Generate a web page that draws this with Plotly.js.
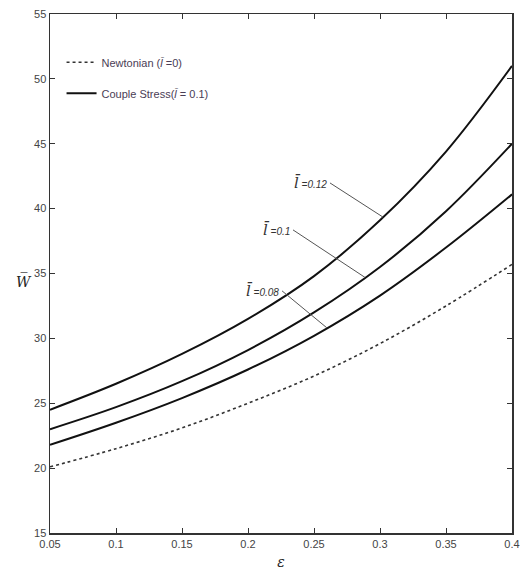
<!DOCTYPE html>
<html>
<head>
<meta charset="utf-8">
<script src="https://cdn.plot.ly/plotly-3.0.1.min.js"></script>
<style>html,body{margin:0;padding:0;background:#fff;}#chart{width:521px;height:573px;}</style>
</head>
<body>
<div id="chart"></div>
<script>
// ---- data ----
const epsilon      = [0.05, 0.10, 0.15, 0.20, 0.25, 0.30, 0.35, 0.40];
const W_newtonian  = [20.1, 21.5, 23.1, 25.0, 27.1, 29.6, 32.5, 35.7];
const W_l008       = [21.8, 23.5, 25.4, 27.6, 30.2, 33.3, 37.0, 41.1];
const W_l010       = [23.0, 24.7, 26.7, 29.1, 32.0, 35.5, 39.8, 45.0];
const W_l012       = [24.5, 26.5, 28.8, 31.5, 34.8, 39.1, 44.4, 51.0];
const xTicks = [0.05, 0.1, 0.15, 0.2, 0.25, 0.3, 0.35, 0.4];
const yTicks = [15, 20, 25, 30, 35, 40, 45, 50, 55];
const curveLabels = ["=0.08", "=0.1", "=0.12"];
const legendNames = ["Newtonian (<i>l\u0304</i> =0)", "Couple Stress(<i>l\u0304</i> = 0.1)"];

function interp(xs, ys, x) {
  for (let i = 0; i < xs.length - 1; i++) {
    if (x >= xs[i] && x <= xs[i + 1]) {
      const t = (x - xs[i]) / (xs[i + 1] - xs[i]);
      return ys[i] + t * (ys[i + 1] - ys[i]);
    }
  }
  return ys[ys.length - 1];
}

const solid = {color: '#111', width: 2};
const traces = [
  {x: epsilon, y: W_newtonian, mode: 'lines', name: legendNames[0], legendgroup: 'a',
   line: {color: '#333', width: 1.6, dash: 'dot', shape: 'spline'}},
  {x: epsilon, y: W_l008, mode: 'lines', showlegend: false, legendgroup: 'c',
   line: Object.assign({shape: 'spline'}, solid)},
  {x: epsilon, y: W_l010, mode: 'lines', name: legendNames[1], legendgroup: 'b',
   line: Object.assign({shape: 'spline'}, solid)},
  {x: epsilon, y: W_l012, mode: 'lines', showlegend: false, legendgroup: 'd',
   line: Object.assign({shape: 'spline'}, solid)}
];

// leader lines: start (label end) -> point on curve
const leaders = [
  {sx: 0.2258, sy: 33.66, ex: 0.2598, ys: W_l008, label: curveLabels[0]},
  {sx: 0.2341, sy: 38.36, ex: 0.2886, ys: W_l010, label: curveLabels[1]},
  {sx: 0.2621, sy: 41.98, ex: 0.3023, ys: W_l012, label: curveLabels[2]}
];
const shapes = leaders.map(l => ({
  type: 'line', xref: 'x', yref: 'y', x0: l.sx, y0: l.sy, x1: l.ex, y1: interp(epsilon, l.ys, l.ex),
  line: {color: '#555', width: 1}
}));
const annotations = leaders.map(l => ({
  x: l.sx, y: l.sy, xref: 'x', yref: 'y', xanchor: 'right', yanchor: 'middle', showarrow: false,
  text: '<span style="font-family:DejaVu Serif;font-size:15px"><i>l\u0304</i></span> <i>' + l.label + '</i>',
  font: {family: 'Liberation Sans, Arial', size: 10, color: '#333'}, xshift: -1
}));
annotations.push({
  xref: 'paper', yref: 'paper', x: -0.056, y: 0.485, xanchor: 'center', yanchor: 'middle', showarrow: false,
  text: '<i>W\u0305</i>', font: {family: 'DejaVu Serif', size: 14, color: '#222'}
});

const axisCommon = {
  showgrid: false, zeroline: false, showline: true, linecolor: '#333', linewidth: 1.5,
  mirror: 'ticks', ticks: 'inside', ticklen: 5, tickwidth: 1, tickcolor: '#333',
  tickfont: {family: 'Liberation Sans, Arial', size: 11, color: '#444'}
};

const layout = {
  width: 521, height: 573,
  margin: {l: 50, r: 9, t: 14, b: 40},
  paper_bgcolor: '#fff', plot_bgcolor: '#fff',
  showlegend: true,
  legend: {x: 0.025, y: 0.935, xanchor: 'left', yanchor: 'top', bgcolor: 'rgba(0,0,0,0)',
           font: {family: 'Liberation Sans, Arial', size: 11, color: '#4a3d55'}, tracegroupgap: 12},
  xaxis: Object.assign({}, axisCommon, {range: [0.05, 0.4], tickvals: xTicks,
    ticktext: xTicks.map(v => String(v)),
    title: {text: '<i>ε</i>', font: {family: 'DejaVu Serif', size: 14, color: '#222'}, standoff: 8}}),
  yaxis: Object.assign({}, axisCommon, {range: [15, 55], tickvals: yTicks}),
  shapes: shapes,
  annotations: annotations
};

Plotly.newPlot('chart', traces, layout, {displayModeBar: false, staticPlot: true});
</script>
</body>
</html>
